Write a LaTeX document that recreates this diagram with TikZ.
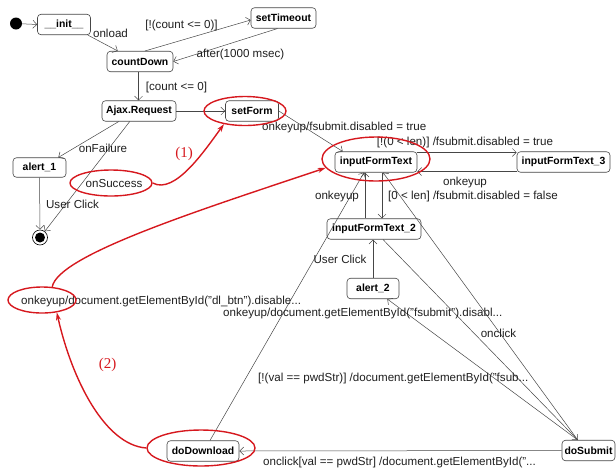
\documentclass[tikz,border=0pt]{standalone}
\usepackage{fontspec}
\setmainfont{Liberation Sans}
\newfontfamily\redserif{Liberation Serif}
\usetikzlibrary{arrows.meta,calc,shapes.geometric}
\definecolor{redc}{RGB}{214,24,30}
\definecolor{linec}{RGB}{70,70,70}
\tikzset{
  state/.style={draw=linec,line width=0.6pt,rounded corners=3.5pt,fill=white,
    font=\bfseries\fontsize{10.4}{12}\selectfont,inner sep=0pt,minimum height=20.5pt},
  lbl/.style={font=\fontsize{11.6}{13}\selectfont,inner sep=0pt,text=black!88},
  edge/.style={draw=linec,line width=0.5pt,-{Straight Barb[length=4pt,width=8pt]}},
  ring/.style={ellipse,draw=redc,line width=1.4pt,inner sep=0pt},
  redarrow/.style={draw=redc,line width=1.4pt,-{Stealth[length=8pt,width=5pt]}},
  redlbl/.style={font=\redserif\fontsize{15}{17}\selectfont,text=redc,inner sep=0pt}
}
\begin{document}
\begin{tikzpicture}[x=1pt,y=-1pt]
\useasboundingbox (0,0) rectangle (616,467);
% states
\node[circle,fill=black,minimum size=12pt,inner sep=0pt] (ini) at (16,23.5) {};
\node[state,minimum width=53pt] (init) at (64,24.5) {\_\_init\_\_};
\node[state,minimum width=65pt] (setTimeout) at (283.5,18) {setTimeout};
\node[state,minimum width=66pt] (countDown) at (140,61.5) {countDown};
\node[state,minimum width=74pt] (Ajax) at (139,111) {Ajax.Request};
\node[state,minimum width=53pt] (setForm) at (252,111) {setForm};
\node[state,minimum width=53pt,minimum height=19.5pt] (alert1) at (39.5,167.5) {alert\_1};
\node[circle,draw=black,line width=0.6pt,minimum size=15pt,inner sep=0pt] (final) at (40,237.5) {};
\node[circle,fill=black,minimum size=10pt,inner sep=0pt] (finaldot) at (40,237.5) {};
\node[state,minimum width=82pt] (iFT) at (376,162) {inputFormText};
\node[state,minimum width=93pt] (iFT3) at (563.5,162) {inputFormText\_3};
\node[state,minimum width=94pt] (iFT2) at (374,229) {inputFormText\_2};
\node[state,minimum width=52pt] (alert2) at (373,288.5) {alert\_2};
\node[state,minimum width=72pt] (doDownload) at (203,451) {doDownload};
\node[state,minimum width=53pt] (doSubmit) at (588.5,450.5) {doSubmit};
% connectors
\draw[edge] (ini) -- (init.west);
\draw[edge] ($(init.south east)+(-3,0)$) -- ($(countDown.north west)+(11,0)$);
\draw[edge] ($(countDown.north)+(5,0)$) -- ($(setTimeout.west)+(0,2)$);
\draw[edge] ($(setTimeout.south)+(-6,0)$) -- (countDown.east);
\coordinate (cd) at ($(countDown.south)+(-1.5,0)$);
\draw[edge] (cd) -- (cd |- Ajax.north);
\draw[edge] (Ajax.east) -- (setForm.west);
\draw[edge] ($(Ajax.south west)+(17,0)$) -- ($(alert1.north east)+(-8,0)$);
\draw[edge] ($(Ajax.south west)+(28,0)$) -- (final);
\draw[edge] (alert1.south) -- (final.north);
\draw[edge] (setForm.east) -- ($(iFT.north west)+(8,0)$);
\draw[edge] ($(iFT.north east)+(0,1)$) -- ($(iFT3.north west)+(0,1)$);
\draw[edge] ($(iFT3.south west)+(0,-1)$) -- ($(iFT.south east)+(0,-1)$);
\coordinate (v1) at ($(iFT2.north)+(-9,0)$);
\draw[edge] (v1) -- (v1 |- iFT.south);
\coordinate (v2) at ($(iFT.south)+(6,0)$);
\draw[edge] (v2) -- (v2 |- iFT2.north);
\draw[edge] ($(doDownload.north)+(7,0)$) -- ($(iFT.south)+(-12,0)$);
\coordinate (ds) at ($(doSubmit.north west)+(16,0)$);
\draw[edge] (ds) -- ($(iFT.south)+(7,0)$);
\draw[edge] ($(iFT2.south)+(9,0)$) -- (ds);
\draw[edge] (ds) -- ($(alert2.south east)+(-12,0)$);
\draw[edge] (alert2.north) -- (alert2.north |- iFT2.south);
\draw[edge] (doSubmit.west) -- (doDownload.east);
% labels
\node[lbl] (l1) at (110.5,33.5) {onload};
\node[lbl] (l2) at (181.5,25) {[!(count <= 0)]};
\node[lbl] (l3) at (240.5,54) {after(1000 msec)};
\node[lbl] (l4) at (176.5,87) {[count <= 0]};
\node[lbl,anchor=west] (l5) at (262,127) {onkeyup/fsubmit.disabled = true};
\node[lbl] (l6) at (465,142) {[!(0 < len)] /fsubmit.disabled = true};
\node[lbl] (l7) at (465,182) {onkeyup};
\node[lbl,anchor=west] (l8) at (388,196) {[0 < len] /fsubmit.disabled = false};
\node[lbl] (l9) at (337,196) {onkeyup};
\node[lbl] (l10) at (103,148) {onFailure};
\node[lbl] (l11) at (114,183.5) {onSuccess};
\node[lbl] (l12) at (72.5,204) {User Click};
\node[lbl] (l13) at (340,259) {User Click};
\node[lbl,anchor=west] (l14) at (21,301) {onkeyup/document.getElementById("dl\_btn").disable...};
\node[lbl,anchor=west] (l15) at (223,313) {onkeyup/document.getElementById("fsubmit").disabl...};
\node[lbl] (l16) at (498.5,333) {onclick};
\node[lbl,anchor=west] (l17) at (258,378) {[!(val == pwdStr)] /document.getElementById("fsub...};
\node[lbl,anchor=west] (l18) at (263,462) {onclick[val == pwdStr] /document.getElementById("...};
% red annotations
\node[ring,minimum width=82pt,minimum height=29pt] (rSetForm) at (245,111) {};
\node[ring,minimum width=82pt,minimum height=26pt] (rSucc) at (111,183) {};
\node[ring,minimum width=108pt,minimum height=44pt] (rIFT) at (376,159) {};
\node[ring,minimum width=68pt,minimum height=26pt] (rLeft) at (42,300) {};
\node[ring,minimum width=108pt,minimum height=36pt] (rDD) at (201,448) {};
\draw[redarrow] (rSucc.east) .. controls (175,195) and (205,150) .. (rSetForm.212);
\draw[redarrow] (rLeft.52) .. controls (58,255) and (200,210) .. (rIFT.190);
\draw[redarrow] (rDD.west) .. controls (105,445) and (72,380) .. (rLeft.320);
\node[redlbl] (n1) at (184,154) {(1)};
\node[redlbl] (n2) at (107.5,365) {(2)};
\end{tikzpicture}
\end{document}
